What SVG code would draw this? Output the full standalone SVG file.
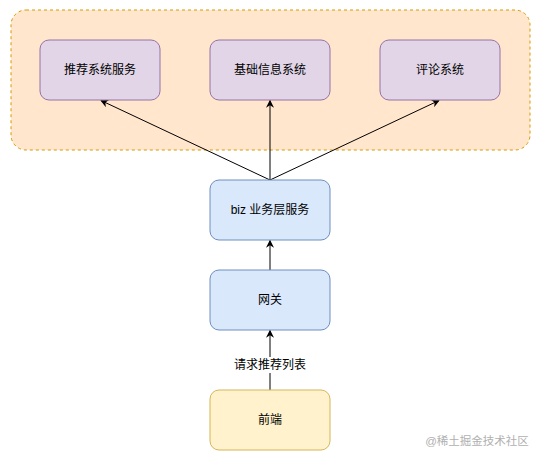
<svg xmlns="http://www.w3.org/2000/svg" width="541" height="461" viewBox="0 0 541 461">
<defs>
<style>
text{font-family:"Liberation Sans","Noto Sans CJK SC",sans-serif;font-size:12px;fill:#000;text-anchor:middle;dominant-baseline:central}
.purple{fill:#e1d5e7;stroke:#9673a6}
.blue{fill:#dae8fc;stroke:#6c8ebf}
.yellow{fill:#fff2cc;stroke:#d6b656}
.edge{stroke:#000;stroke-width:1;fill:none;marker-end:url(#arr)}
</style>
<marker id="arr" viewBox="0 0 10 10" refX="9" refY="5" markerWidth="8" markerHeight="8" orient="auto" markerUnits="userSpaceOnUse">
<path d="M0,0 L10,5 L0,10 L3,5 Z" fill="#000"/>
</marker>
</defs>
<rect width="541" height="461" fill="#fff"/>
<g id="container">
<rect x="11" y="10" width="519" height="140" rx="15" fill="#ffe6cc" stroke="#d79b00" stroke-dasharray="3,3"/>
</g>
<g id="connectors">
<line class="edge" x1="270" y1="180" x2="101" y2="100.5"/>
<line class="edge" x1="270" y1="180" x2="270" y2="100.5"/>
<line class="edge" x1="270" y1="180" x2="439" y2="100.5"/>
<line class="edge" x1="270" y1="270" x2="270" y2="240.5"/>
<line class="edge" x1="270" y1="390" x2="270" y2="330.5"/>
<rect x="230" y="357" width="80" height="16" fill="#fff"/>
<text x="270" y="365">请求推荐列表</text>
</g>
<g id="rec"><rect class="purple" x="40" y="40" width="120" height="60" rx="9"/><text x="100" y="70">推荐系统服务</text></g>
<g id="base"><rect class="purple" x="210" y="40" width="120" height="60" rx="9"/><text x="270" y="70">基础信息系统</text></g>
<g id="comment"><rect class="purple" x="380" y="40" width="120" height="60" rx="9"/><text x="440" y="70">评论系统</text></g>
<g id="biz"><rect class="blue" x="210" y="180" width="120" height="60" rx="9"/><text x="270" y="210">biz 业务层服务</text></g>
<g id="gateway"><rect class="blue" x="210" y="270" width="120" height="60" rx="9"/><text x="270" y="300">网关</text></g>
<g id="frontend"><rect class="yellow" x="210" y="390" width="120" height="60" rx="9"/><text x="270" y="420">前端</text></g>
<text x="477" y="441" style="fill:#b0b0b0;font-size:11.5px">@稀土掘金技术社区</text>
</svg>
